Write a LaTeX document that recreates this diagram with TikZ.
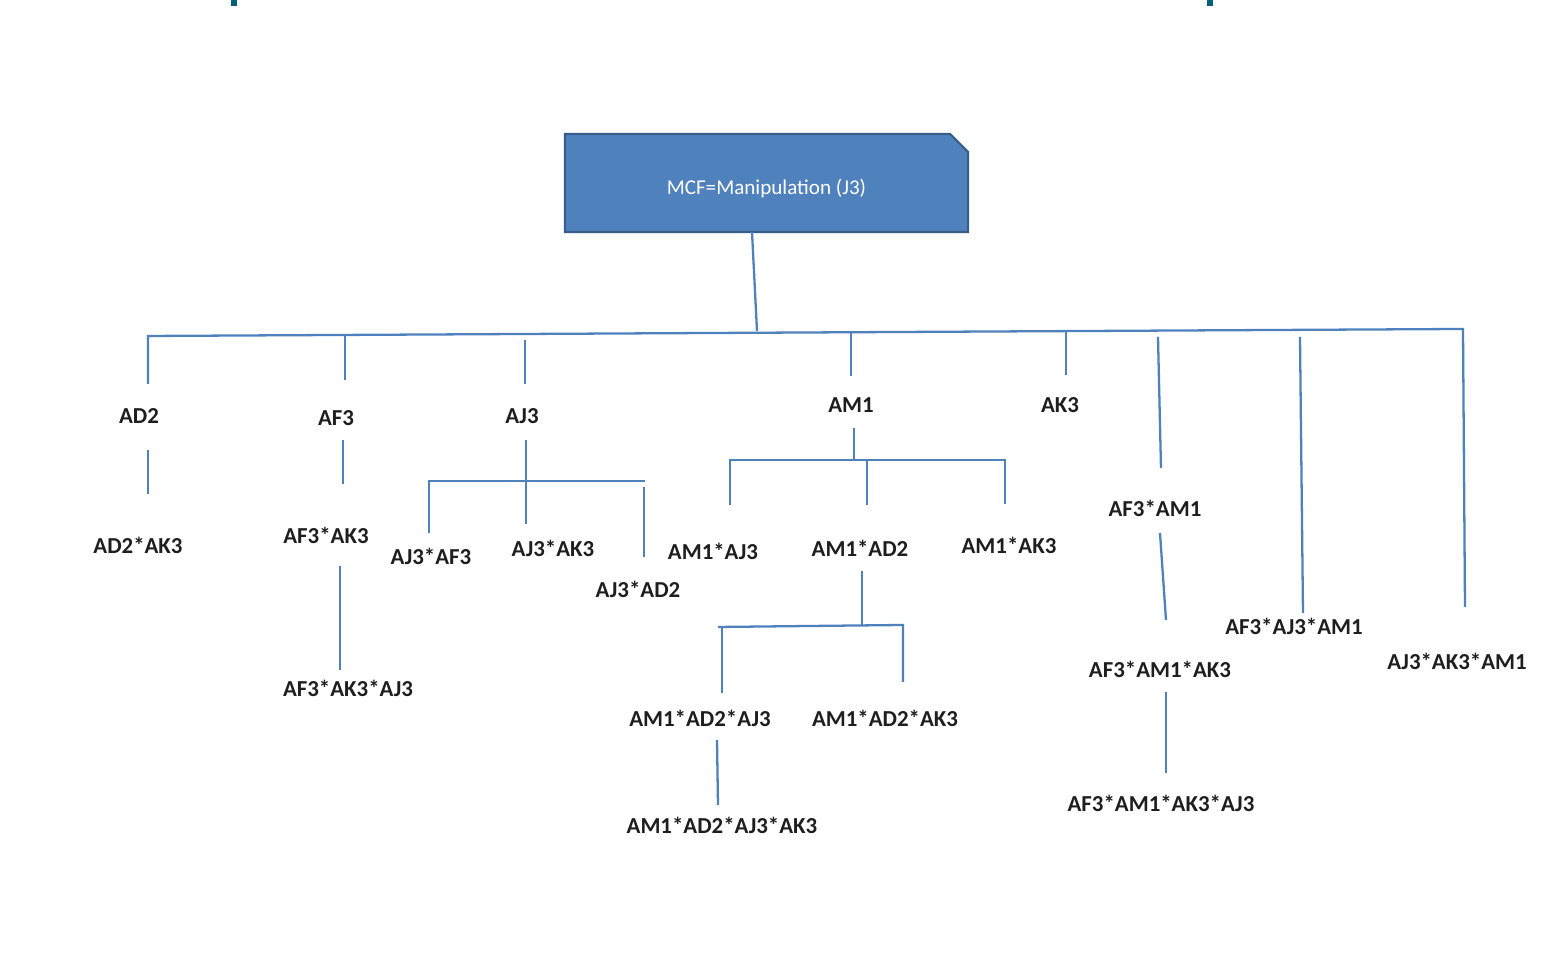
\documentclass[tikz,border=0pt]{standalone}
\usepackage{fontspec}
\setmainfont{Carlito}
\usetikzlibrary{shapes.misc}
\definecolor{wireblue}{RGB}{79,129,189}
\definecolor{boxedge}{RGB}{56,93,138}
\definecolor{markteal}{RGB}{0,98,122}
\definecolor{lbltext}{RGB}{30,30,30}
\tikzset{
  wire/.style={draw=wireblue, line width=0.65pt},
  lbl/.style={inner sep=0pt, text=lbltext, font=\fontsize{6.5}{7}\selectfont\bfseries},
  rootbox/.style={chamfered rectangle, chamfered rectangle corners=north east,
    chamfered rectangle xsep=0.09cm, chamfered rectangle ysep=0.09cm,
    fill=wireblue, draw=boxedge, line width=0.6pt, text=white,
    minimum width=4.03cm, minimum height=0.98cm, inner sep=0pt,
    text height=0.26cm, font=\fontsize{6}{7}\selectfont}
}
\begin{document}
\begin{tikzpicture}[x=0.01cm, y=-0.01cm]
   \useasboundingbox (0,0) rectangle (1547,971);
   \fill[markteal] (231,0) rectangle (237,6);
   \fill[markteal] (1207,0) rectangle (1213,6);
   % root and bus
   \node[rootbox] (root) at (766.5,183) {MCF=Manipulation (J3)};
   \coordinate (r0) at (752,232);
   \coordinate (r1) at (757,331);
   \coordinate (busL) at (148,336);
   \coordinate (busR) at (1463,329);
   \draw[wire] (r0) -- (r1);
   % first level
   \node[lbl] (ad2) at (139,416) {AD2};
   \node[lbl] (af3) at (336,418) {AF3};
   \node[lbl] (aj3) at (522,416) {AJ3};
   \node[lbl] (am1) at (851,405) {AM1};
   \node[lbl] (ak3) at (1060,405) {AK3};
   \coordinate (ad2t) at (148,384);
   \coordinate (af3a) at (345,335);
   \coordinate (af3t) at (345,380);
   \coordinate (aj3a) at (525,340);
   \coordinate (aj3t) at (525,384);
   \coordinate (am1a) at (851,332);
   \coordinate (am1t) at (851,376);
   \coordinate (ak3a) at (1066,330);
   \coordinate (ak3t) at (1066,375);
   \coordinate (ajkma) at (1465,607);
   \draw[wire] (ad2t) -- (busL) -- (busR) -- (ajkma);
   \draw[wire] (af3a) -- (af3t);
   \draw[wire] (aj3a) -- (aj3t);
   \draw[wire] (am1a) -- (am1t);
   \draw[wire] (ak3a) -- (ak3t);
   % AD2 branch
   \node[lbl] (ad2ak3) at (138,545) {AD2*AK3};
   \coordinate (ad2a) at (148,450);
   \coordinate (ad2b) at (148,494);
   \draw[wire] (ad2a) -- (ad2b);
   % AF3 branch
   \node[lbl] (af3ak3) at (326,535) {AF3*AK3};
   \node[lbl] (af3ak3aj3) at (348,688) {AF3*AK3*AJ3};
   \coordinate (af3b) at (343,440);
   \coordinate (af3c) at (343,484);
   \coordinate (af3d) at (340,566);
   \coordinate (af3e) at (340,670);
   \draw[wire] (af3b) -- (af3c);
   \draw[wire] (af3d) -- (af3e);
   % AJ3 branch
   \node[lbl] (aj3af3) at (431,556) {AJ3*AF3};
   \node[lbl] (aj3ak3) at (553,548) {AJ3*AK3};
   \node[lbl] (aj3ad2) at (638,589) {AJ3*AD2};
   \coordinate (aj3b) at (526,440);
   \coordinate (aj3c) at (526,524);
   \coordinate (aj3l) at (429,533);
   \coordinate (aj3lt) at (429,481);
   \coordinate (aj3rt) at (645,481);
   \coordinate (aj3r0) at (644,487);
   \coordinate (aj3r) at (644,557);
   \draw[wire] (aj3b) -- (aj3c);
   \draw[wire] (aj3l) -- (aj3lt) -- (aj3rt);
   \draw[wire] (aj3r0) -- (aj3r);
   % AM1 branch
   \node[lbl] (am1aj3) at (713,551) {AM1*AJ3};
   \node[lbl] (am1ad2) at (860,548) {AM1*AD2};
   \node[lbl] (am1ak3) at (1009,545) {AM1*AK3};
   \coordinate (am1b) at (854,428);
   \coordinate (am1c) at (854,460);
   \coordinate (am1l) at (730,505);
   \coordinate (am1lt) at (730,460);
   \coordinate (am1rt) at (1005,460);
   \coordinate (am1r) at (1005,504);
   \coordinate (am1mt) at (867,460);
   \coordinate (am1m) at (867,505);
   \draw[wire] (am1b) -- (am1c);
   \draw[wire] (am1l) -- (am1lt) -- (am1rt) -- (am1r);
   \draw[wire] (am1mt) -- (am1m);
   % AM1*AD2 branch
   \node[lbl] (am1ad2aj3) at (700,718) {AM1*AD2*AJ3};
   \node[lbl] (am1ad2ak3) at (885,718) {AM1*AD2*AK3};
   \node[lbl] (am1ad2aj3ak3) at (722,825) {AM1*AD2*AJ3*AK3};
   \coordinate (am2a) at (862,571);
   \coordinate (am2b) at (862,625);
   \coordinate (am2l) at (722,693);
   \coordinate (am2lt) at (722,627);
   \coordinate (am2ll) at (718,627);
   \coordinate (am2rt) at (903,625);
   \coordinate (am2r) at (903,682);
   \coordinate (am2c) at (717,740);
   \coordinate (am2d) at (718,805);
   \draw[wire] (am2a) -- (am2b);
   \draw[wire] (am2ll) -- (am2rt) -- (am2r);
   \draw[wire] (am2lt) -- (am2l);
   \draw[wire] (am2c) -- (am2d);
   % right-hand terms
   \node[lbl] (af3am1) at (1155,508) {AF3*AM1};
   \node[lbl] (af3am1ak3) at (1160,669) {AF3*AM1*AK3};
   \node[lbl] (af3am1ak3aj3) at (1161,803) {AF3*AM1*AK3*AJ3};
   \node[lbl] (af3aj3am1) at (1294,626) {AF3*AJ3*AM1};
   \node[lbl] (aj3ak3am1) at (1457,661) {AJ3*AK3*AM1};
   \coordinate (fa) at (1158,337);
   \coordinate (fb) at (1161,468);
   \coordinate (fc) at (1160,533);
   \coordinate (fd) at (1166,620);
   \coordinate (fe) at (1166,692);
   \coordinate (ff) at (1166,773);
   \coordinate (ga) at (1300,337);
   \coordinate (gb) at (1303,613);
   \draw[wire] (fa) -- (fb);
   \draw[wire] (fc) -- (fd);
   \draw[wire] (fe) -- (ff);
   \draw[wire] (ga) -- (gb);
\end{tikzpicture}
\end{document}
